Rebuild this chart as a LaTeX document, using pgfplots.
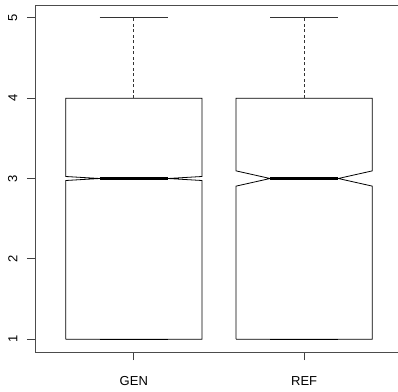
\documentclass[border=0pt]{standalone}
\usepackage{pgfplots}
\pgfplotsset{compat=1.18}
\usepackage{fontspec}
\setmainfont{Liberation Sans}
\begin{document}
\begin{tikzpicture}[x=1pt,y=1pt]
\useasboundingbox (0,0) rectangle (398,391);
\clip (0,0) rectangle (398,391);
\begin{axis}[at={(35pt,39pt)}, anchor=south west, scale only axis,
  width=368pt, height=347pt,
  xmin=0.42, xmax=2.58, ymin=0.84, ymax=5.16,
  xtick={1,2}, xticklabels={GEN,REF}, ytick={1,2,3,4,5},
  tick align=outside, major tick length=8pt, tick pos=left,
  tick style={black!75, line width=0.8pt},
  axis line style={black!70, line width=0.9pt},
  ticklabel style={font=\fontsize{13}{15}\selectfont},
  yticklabel style={xshift=-9.5pt, rotate=90, anchor=south, inner sep=0pt},
  xticklabel style={anchor=base, inner sep=0pt, yshift=-25pt},
  /pgf/number format/assume math mode=true,
  clip=false,
]
% GEN box with notch
\addplot[black, line width=0.8pt] coordinates {(0.6,1) (1.4,1) (1.4,2.975) (1.2,3) (1.4,3.025) (1.4,4) (0.6,4) (0.6,3.025) (0.8,3) (0.6,2.975) (0.6,1)};
\addplot[black, line width=3pt] coordinates {(0.8,3) (1.2,3)};
\addplot[black!80, line width=0.8pt, dash pattern=on 3pt off 2.5pt] coordinates {(1,4) (1,5)};
\addplot[black!80, line width=0.8pt] coordinates {(0.8,5) (1.2,5)};
\addplot[black, line width=0.8pt] coordinates {(0.8,1) (1.2,1)};
% REF box with notch
\addplot[black, line width=0.8pt] coordinates {(1.6,1) (2.4,1) (2.4,2.905) (2.2,3) (2.4,3.095) (2.4,4) (1.6,4) (1.6,3.095) (1.8,3) (1.6,2.905) (1.6,1)};
\addplot[black, line width=3pt] coordinates {(1.8,3) (2.2,3)};
\addplot[black!80, line width=0.8pt, dash pattern=on 3pt off 2.5pt] coordinates {(2,4) (2,5)};
\addplot[black!80, line width=0.8pt] coordinates {(1.8,5) (2.2,5)};
\addplot[black, line width=0.8pt] coordinates {(1.8,1) (2.2,1)};
\end{axis}
\end{tikzpicture}
\end{document}
